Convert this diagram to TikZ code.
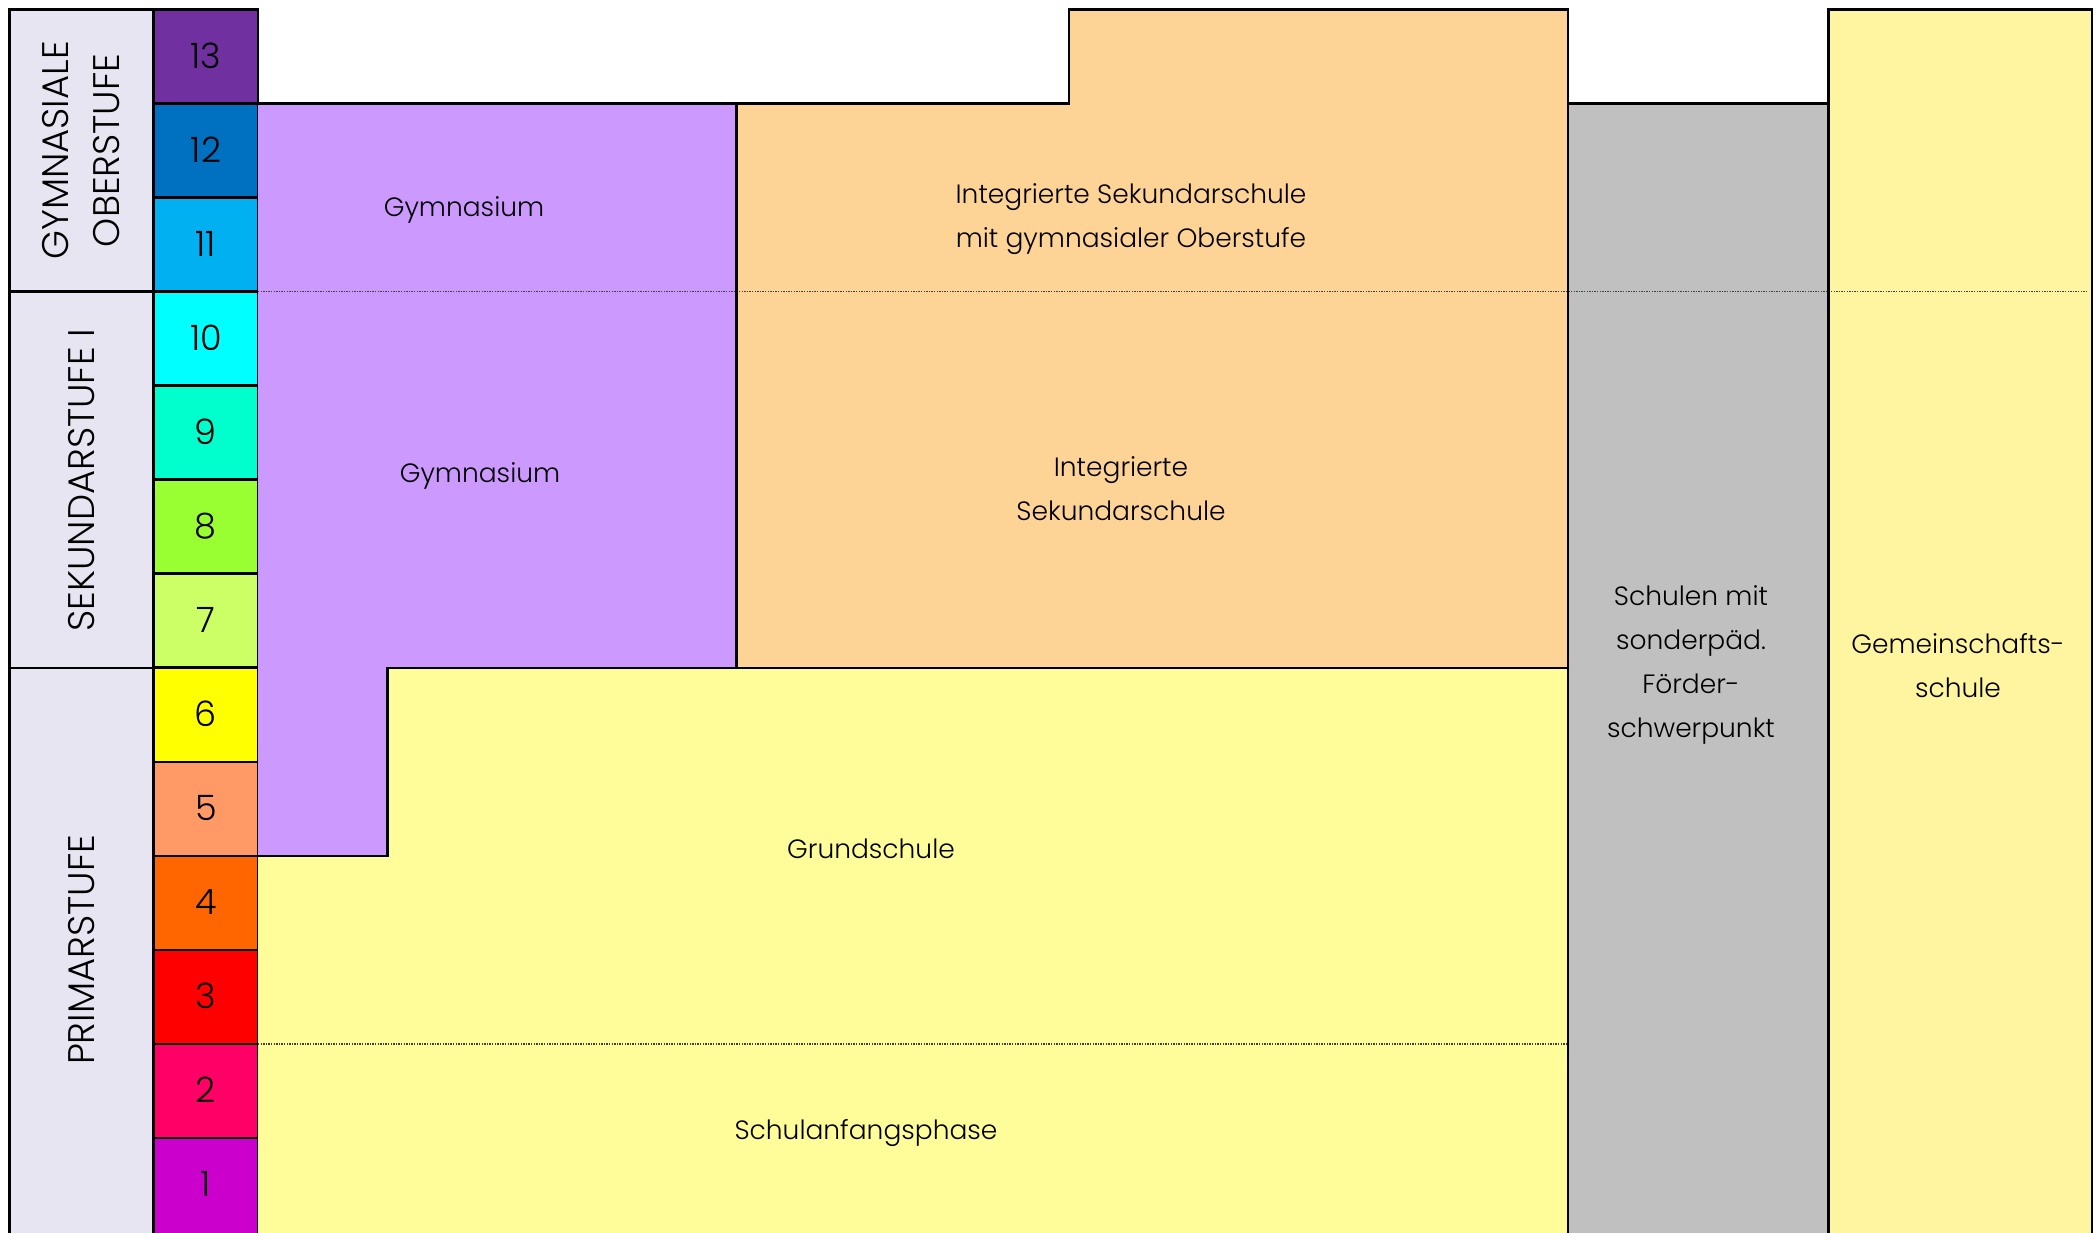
\documentclass[tikz,border=0pt]{standalone}
\usepackage{fontspec}
\setmainfont{Poppins Light}
\definecolor{stagebg}{HTML}{E7E5F2}
\definecolor{g13}{HTML}{7030A0}
\definecolor{g12}{HTML}{0070C0}
\definecolor{g11}{HTML}{00B0F0}
\definecolor{g10}{HTML}{00FFFF}
\definecolor{g9}{HTML}{00FFCC}
\definecolor{g8}{HTML}{99FF33}
\definecolor{g7}{HTML}{CCFF66}
\definecolor{g6}{HTML}{FFFF00}
\definecolor{g5}{HTML}{FF9966}
\definecolor{g4}{HTML}{FF6600}
\definecolor{g3}{HTML}{FF0000}
\definecolor{g2}{HTML}{FF0066}
\definecolor{g1}{HTML}{CC00CC}
\definecolor{gymcol}{HTML}{CC99FF}
\definecolor{isscol}{HTML}{FED396}
\definecolor{grundcol}{HTML}{FFFD99}
\definecolor{greycol}{HTML}{C0C0C0}
\definecolor{gemcol}{HTML}{FFF5A0}
\begin{document}
\begin{tikzpicture}[x=1pt,y=-1pt,
  border/.style={draw=black,line width=2.6pt,line join=miter},
  dotline/.style={draw=black!75,line width=1.3pt,dash pattern=on 1.3pt off 1.3pt},
  lbl/.style={font=\fontsize{26.5}{44}\selectfont,align=center,inner sep=0pt},
  grade/.style={font=\fontsize{35}{35}\selectfont,inner sep=0pt},
  stage/.style={font=\fontsize{37}{51}\selectfont,align=center,rotate=90,inner sep=0pt}]

\useasboundingbox (0,0) rectangle (2096,1232);
\fill[white] (0,0) rectangle (2096,1232);

% stage column backgrounds
\fill[stagebg] (9.4,9.4) rectangle (153.7,1245);

% grade cells
\foreach \g in {13,12,...,1} {
  \pgfmathsetmacro\yt{9.4+(13-\g)*94.05}
  \pgfmathsetmacro\yb{\yt+94.05+ifthenelse(\g==1,20,0)}
  \fill[g\g] (153.7,\yt) rectangle (258,\yb);
  \draw[border] (153.7,\yt) rectangle (258,\yb);
}

% school blocks
\fill[gymcol] (258,103.5) -- (736.5,103.5) -- (736.5,667.8) -- (387.6,667.8) -- (387.6,855.9) -- (258,855.9) -- cycle;
\fill[isscol] (736.5,103.5) -- (1069,103.5) -- (1069,9.4) -- (1568,9.4) -- (1568,667.8) -- (736.5,667.8) -- cycle;
\fill[grundcol] (387.6,667.8) -- (1568,667.8) -- (1568,1245) -- (258,1245) -- (258,855.9) -- (387.6,855.9) -- cycle;
\fill[greycol] (1568,103.5) rectangle (1828.6,1245);
\fill[gemcol] (1828.6,9.4) rectangle (2092,1245);

% dotted separators
\coordinate (d1a) at (258,291.6);
\coordinate (d1b) at (2088,291.6);
\coordinate (d2a) at (258,1044);
\coordinate (d2b) at (1568,1044);
\draw[dotline] (d1a) -- (d1b);
\draw[dotline] (d2a) -- (d2b);

% borders
\draw[border] (258,103.5) -- (736.5,103.5) -- (736.5,667.8) -- (387.6,667.8) -- (387.6,855.9) -- (258,855.9);
\draw[border] (736.5,103.5) -- (1069,103.5) -- (1069,9.4) -- (1568,9.4) -- (1568,667.8) -- (736.5,667.8);
\draw[border] (1568,103.5) -- (1828.6,103.5);
\draw[border] (1568,9.4) -- (1568,1245);
\draw[border] (1828.6,1245) -- (1828.6,9.4) -- (2092,9.4) -- (2092,1245);
\draw[border] (9.4,1245) -- (9.4,9.4) -- (153.7,9.4) -- (153.7,1245);
\draw[border] (9.4,291.6) -- (153.7,291.6);
\draw[border] (9.4,667.8) -- (153.7,667.8);

% grade numbers
\foreach \g in {13,12,...,1} {
  \pgfmathsetmacro\yc{9.4+(13-\g)*94.05+46}
  \node[grade] (n\g) at (205.9,\yc) {\g};
}

% stage labels
\node[stage] (st1) at (81.5,150.5) {GYMNASIALE\\OBERSTUFE};
\node[stage] (st2) at (81.5,480) {SEKUNDARSTUFE I};
\node[stage] (st3) at (81.5,950) {PRIMARSTUFE};

% school labels
\node[lbl] (gym1) at (464,210) {Gymnasium};
\node[lbl] (gym2) at (480,476) {Gymnasium};
\node[lbl] (iss1) at (1131,219) {Integrierte Sekundarschule\\mit gymnasialer Oberstufe};
\node[lbl] (iss2) at (1121,489) {Integrierte\\Sekundarschule};
\node[lbl] (grund) at (871,849) {Grundschule};
\node[lbl] (sap) at (866,1133) {Schulanfangsphase};
\node[lbl] (sond) at (1691,665) {Schulen mit\\sonderpäd.\\Förder-\\schwerpunkt};
\node[lbl] (gem) at (1958,666) {Gemeinschafts-\\schule};
\end{tikzpicture}
\end{document}
